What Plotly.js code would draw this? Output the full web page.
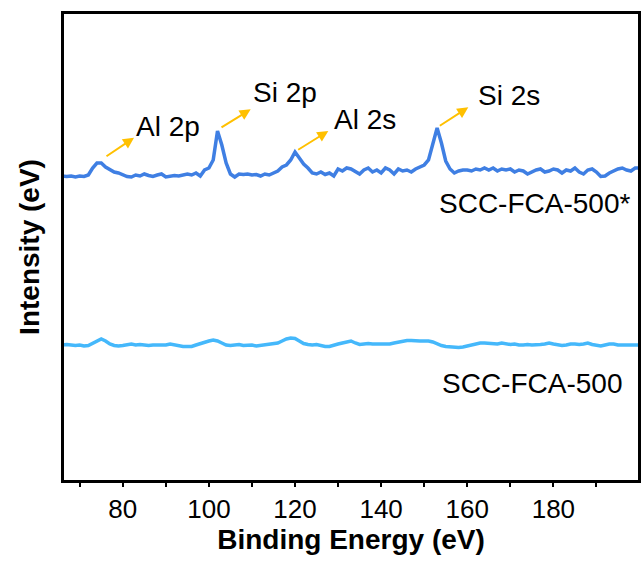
<!DOCTYPE html>
<html>
<head>
<meta charset="utf-8">
<script src="https://cdn.plot.ly/plotly-3.0.1.min.js"></script>
<style>html,body{margin:0;padding:0;background:#fff;}#chart{width:641px;height:574px;}</style>
</head>
<body>
<div id="chart"></div>
<script>
// Binding energy grid (eV)
const energy = [66,67,68,69,70,71,72,73,74,75,76,77,78,79,80,81,82,83,84,85,86,87,88,89,90,91,92,93,94,95,96,97,98,99,100,101,102,103,104,105,106,107,108,109,110,111,112,113,114,115,116,117,118,119,120,121,122,123,124,125,126,127,128,129,130,131,132,133,134,135,136,137,138,139,140,141,142,143,144,145,146,147,148,149,150,151,152,153,154,155,156,157,158,159,160,161,162,163,164,165,166,167,168,169,170,171,172,173,174,175,176,177,178,179,180,181,182,183,184,185,186,187,188,189,190,191,192,193,194,195,196,197,198,199,200];

// SCC-FCA-500* (offset, a.u.)
const seriesStar = [305,304.5,305,304,305,304.5,306,313,318,318,314,311,309,308,306,304.5,304,306,305,307,305.5,304.5,306,307,304,305,305.5,305,306,307,306,308,305,311,313,321,350,336,318,307,304,307,306.5,307,306,306.5,305,307,306,308,310,314,316,321,329,323,317,313,308,307,309,306.5,308,305,312,310,313,312,309,307,311,313,309,311,308,313,311,307,312,310,311,309,312,314,316,321,337,353,338,320,312,308,310,311,311,310,312,311,313,311,313,310,312,311,312,309,311,310,307,309,311,312,309,310,312,311,308,311,310,313,309,307,311,312,309,304.5,305,308,310,312,313,311,310,313,313];

// SCC-FCA-500 (a.u.)
const seriesPlain = [136,136.5,136,135.5,136,135,135.5,138,140,142,140,137,135.5,135,135.5,136.5,137,136,136.5,136,135.5,136,136,135.5,136,137,136,135,134.5,134.5,134.5,136,137.5,139,140,141,140,138,136,135.5,136,136.5,135.5,136,136,135,135.5,136,136.5,137,138,140,142,143,142.5,140,137.5,136.5,136,136.5,135.5,134.5,134.5,136,137,138,139,140,138,136.5,137,137.5,137,137,137,137.5,137,138,139,140,140.5,140.5,140,140,140,140,139,137,135.5,134.5,134,133.5,133.5,134,135,136.5,137.5,138,138,137.5,137,137,138,137,136.5,137,136,136,136.5,136,136,136.5,137,138,137,136,135.5,136,137,137,136.5,137,138,136.5,135.5,135,136,137,137,136,136,136,136,136,136];

// Peak labels
const peakNames = ["Al 2p", "Si 2p", "Al 2s", "Si 2s"];
const seriesNames = ["SCC-FCA-500*", "SCC-FCA-500"];
const xTickVals = [80,100,120,140,160,180];

const font = "Arial, 'Liberation Sans', sans-serif";
const arrowColor = "#FFC000";

// annotation geometry (layout, not data)
const peakLabelPos = [[82.6,355],[109.7,388.5],[128.6,361.5],[162.0,386]];
const arrowGeom = [
  [75.87,323.7,82.61,343.3],
  [102.58,352.7,109.71,371.7],
  [120.39,330.3,127.73,350],
  [153.28,354.3,160.24,373.7]
];

const annotations = [];
arrowGeom.forEach(g => {
  annotations.push({x:g[2], y:g[3], ax:g[0], ay:g[1], axref:'x', ayref:'y', xref:'x', yref:'y',
    text:'', showarrow:true, arrowhead:2, arrowsize:1.1, arrowwidth:2, arrowcolor:arrowColor, standoff:0, startstandoff:0});
});
peakNames.forEach((n,i) => {
  annotations.push({x:peakLabelPos[i][0], y:peakLabelPos[i][1], xref:'x', yref:'y', text:n, showarrow:false,
    xanchor:'left', yanchor:'middle', font:{family:font, size:28, color:'#000'}});
});
annotations.push({x:152.9, y:278, xref:'x', yref:'y', text:seriesNames[0], showarrow:false, xanchor:'left', yanchor:'middle', font:{family:font, size:28, color:'#000'}});
annotations.push({x:153.67, y:97.5, xref:'x', yref:'y', text:seriesNames[1], showarrow:false, xanchor:'left', yanchor:'middle', font:{family:font, size:28, color:'#000'}});

const traces = [
  {x:energy, y:seriesStar, type:'scatter', mode:'lines', name:seriesNames[0], line:{color:'#3F7FE3', width:3.5}},
  {x:energy, y:seriesPlain, type:'scatter', mode:'lines', name:seriesNames[1], line:{color:'#45B8FB', width:3.5}}
];

const layout = {
  width:641, height:574,
  margin:{l:64, r:3, t:14, b:94, pad:0},
  paper_bgcolor:'#fff', plot_bgcolor:'#fff',
  showlegend:false,
  font:{family:font, color:'#000'},
  xaxis:{
    range:[66.35,199.65], showgrid:false, zeroline:false,
    showline:true, linecolor:'#000', linewidth:3, mirror:true,
    ticks:'outside', ticklen:4, tickwidth:2, tickcolor:'#000',
    tickvals:xTickVals, ticktext:xTickVals.map(String),
    tickfont:{family:font, size:26, color:'#000'},
    minor:{tickvals:[70,90,110,130,150,170,190], ticks:'outside', ticklen:4, tickwidth:2, tickcolor:'#000'},
    title:{text:'<b>Binding Energy (eV)</b>', font:{family:font, size:28, color:'#000'}, standoff:2}
  },
  yaxis:{
    range:[1,467], showgrid:false, zeroline:false,
    showline:true, linecolor:'#000', linewidth:3, mirror:true,
    ticks:'', showticklabels:false,
    title:{text:'<b>Intensity (eV)</b>', font:{family:font, size:28, color:'#000'}, standoff:14}
  },
  annotations:annotations
};

Plotly.newPlot('chart', traces, layout, {staticPlot:true, displayModeBar:false});
</script>
</body>
</html>
